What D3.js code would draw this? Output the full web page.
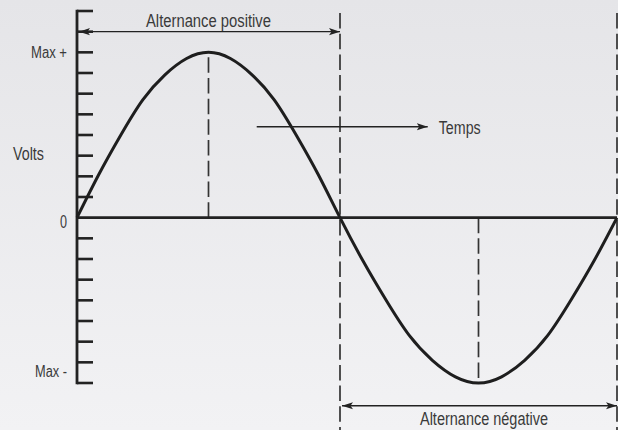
<!DOCTYPE html>
<html>
<head>
<meta charset="utf-8">
<script src="https://cdn.jsdelivr.net/npm/d3@7"></script>
<style>
  html, body { margin: 0; padding: 0; }
  body { width: 618px; height: 430px; overflow: hidden; }
  text { font-family: "Liberation Sans", Arial, sans-serif; fill: #3a3a3a; }
</style>
</head>
<body>
<script>
// phase angle (degrees) and tension in 1/8ths of the peak value
const angles = [0, 15, 30, 45, 60, 75, 90, 105, 120, 135, 150, 165, 180,
                195, 210, 225, 240, 255, 270, 285, 300, 315, 330, 345, 360];
const volts = [0, 2.1, 4, 5.7, 6.9, 7.7, 8, 7.7, 6.9, 5.7, 4, 2.1, 0,
               -2.1, -4, -5.7, -6.9, -7.7, -8, -7.7, -6.9, -5.7, -4, -2.1, 0];
const tickValues = [-8, -7, -6, -5, -4, -3, -2, -1, 0, 1, 2, 3, 4, 5, 6, 7, 8, 9, 10];
const tickLabels = [
  { v: 8, label: "Max +", len: 36, dy: 5.3 },
  { v: 0, label: "0", len: 7, dy: 10.5 },
  { v: -7.5, label: "Max -", len: 32, dy: 4.8 }
];
const halfCycles = [
  { from: 0, to: 180, level: 9, label: "Alternance positive", len: 125, dx: 0, dy: -4.5 },
  { from: 180, to: 360, level: -9.1, label: "Alternance négative", len: 128, dx: 5.5, dy: 19 }
];
const peaks = [{ t: 90, v: 8 }, { t: 270, v: -8 }];

const width = 618, height = 430;

const svg = d3.select("body").append("svg")
  .attr("width", width)
  .attr("height", height);

const defs = svg.append("defs");
const grad = defs.append("linearGradient")
  .attr("id", "bg")
  .attr("x1", 0).attr("y1", 0).attr("x2", 0).attr("y2", 1);
grad.append("stop").attr("offset", "0%").attr("stop-color", "#e5e5e8");
grad.append("stop").attr("offset", "100%").attr("stop-color", "#f2f2f4");

defs.append("marker")
  .attr("id", "head")
  .attr("markerUnits", "userSpaceOnUse")
  .attr("viewBox", "0 -5 12 10")
  .attr("refX", 11).attr("refY", 0)
  .attr("markerWidth", 12).attr("markerHeight", 10)
  .attr("orient", "auto-start-reverse")
  .append("path")
  .attr("d", "M0,-3.6L11,0L0,3.6L2.5,0Z")
  .attr("fill", "#222");

svg.append("rect")
  .attr("width", width).attr("height", height)
  .attr("fill", "url(#bg)");

const x = d3.scaleLinear()
  .domain([0, 180, 360])
  .range([77, 340, 617]);

const y = d3.scaleLinear()
  .domain([-8, 10])
  .range([383, 11]);

// dashed guides at the half-cycle boundaries
svg.selectAll(".guide")
  .data([180, 360])
  .enter().append("line")
  .attr("x1", d => x(d)).attr("x2", d => x(d))
  .attr("y1", 13).attr("y2", height)
  .attr("stroke", "#333")
  .attr("stroke-width", 1.7)
  .attr("stroke-dasharray", "15.5,5.2");

svg.selectAll(".peak")
  .data(peaks)
  .enter().append("line")
  .attr("x1", d => x(d.t)).attr("x2", d => x(d.t))
  .attr("y1", y(0)).attr("y2", d => y(d.v))
  .attr("stroke", "#333")
  .attr("stroke-width", 1.7)
  .attr("stroke-dasharray", "15.5,5.2");

// vertical axis with ticks
svg.append("line")
  .attr("x1", x(0)).attr("x2", x(0))
  .attr("y1", y(10) - 1.3).attr("y2", y(-8) + 1.3)
  .attr("stroke", "#222").attr("stroke-width", 2.8);

svg.selectAll(".tick")
  .data(tickValues.filter(d => d !== 0))
  .enter().append("line")
  .attr("x1", x(0)).attr("x2", x(0) + 16)
  .attr("y1", d => y(d)).attr("y2", d => y(d))
  .attr("stroke", "#222").attr("stroke-width", 2.6);

// zero line
svg.append("line")
  .attr("x1", x(0)).attr("x2", x(360))
  .attr("y1", y(0)).attr("y2", y(0))
  .attr("stroke", "#222").attr("stroke-width", 2.8);

// the wave
const wave = angles.map((t, i) => ({ t, v: volts[i] }));
svg.append("path")
  .datum(wave)
  .attr("fill", "none")
  .attr("stroke", "#1e1e1e")
  .attr("stroke-width", 3)
  .attr("d", d3.line().x(d => x(d.t)).y(d => y(d.v)).curve(d3.curveNatural));

// half-cycle arrows
svg.selectAll(".span")
  .data(halfCycles)
  .enter().append("line")
  .attr("x1", d => x(d.from) + 2).attr("x2", d => x(d.to))
  .attr("y1", d => y(d.level)).attr("y2", d => y(d.level))
  .attr("stroke", "#222").attr("stroke-width", 1.4)
  .attr("marker-start", "url(#head)")
  .attr("marker-end", "url(#head)");

// condensed look: squeeze the sans text to the widths seen in the picture
svg.selectAll(".spanLabel")
  .data(halfCycles)
  .enter().append("text")
  .attr("x", d => (x(d.from) + x(d.to)) / 2 + d.dx)
  .attr("y", d => y(d.level) + d.dy)
  .attr("text-anchor", "middle")
  .attr("font-size", 17.5)
  .attr("textLength", d => d.len)
  .attr("lengthAdjust", "spacingAndGlyphs")
  .text(d => d.label);

// time arrow
svg.append("line")
  .attr("x1", x(123)).attr("x2", x(237))
  .attr("y1", y(4.4)).attr("y2", y(4.4))
  .attr("stroke", "#222").attr("stroke-width", 1.3)
  .attr("marker-end", "url(#head)");

svg.append("text")
  .attr("x", x(237) + 11).attr("y", y(4.4) + 7.3)
  .attr("font-size", 18)
  .attr("textLength", 42)
  .attr("lengthAdjust", "spacingAndGlyphs")
  .text("Temps");

// y labels
svg.selectAll(".ylab")
  .data(tickLabels)
  .enter().append("text")
  .attr("x", 67)
  .attr("y", d => y(d.v) + d.dy)
  .attr("text-anchor", "end")
  .attr("font-size", d => d.v === 0 ? 17.5 : 16)
  .attr("textLength", d => d.len)
  .attr("lengthAdjust", "spacingAndGlyphs")
  .text(d => d.label);

svg.append("text")
  .attr("x", 13).attr("y", y(2.8) + 0.5)
  .attr("font-size", 17.5)
  .attr("textLength", 31)
  .attr("lengthAdjust", "spacingAndGlyphs")
  .text("Volts");
</script>
</body>
</html>
